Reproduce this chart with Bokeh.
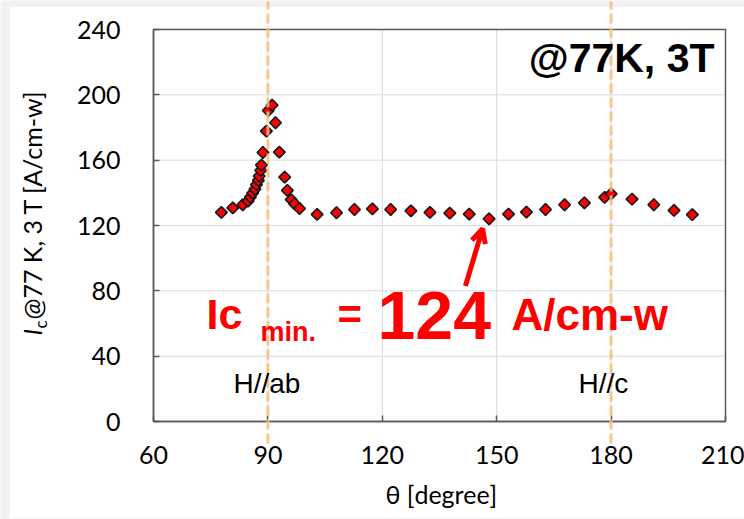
import math
from bokeh.plotting import figure
from bokeh.models import (Range1d, Label, Arrow, OpenHead, FixedTicker, ColumnDataSource,
                          BoxAnnotation)
from bokeh.embed import file_html
from bokeh.resources import INLINE

# Critical current vs field angle, 77 K, 3 T
theta = [77.8, 80.8, 83.4, 84.8, 85.4, 86.0, 86.6, 87.0, 87.5, 87.7, 88.1, 88.3,
         88.7, 89.6, 90.1, 91.1, 92.0, 93.0, 94.4, 95.1, 96.1, 97.0, 98.3, 102.9,
         108.0, 112.7, 117.4, 122.2, 127.5, 132.5, 137.7, 142.8, 148.0, 153.1,
         157.8, 162.8, 167.8, 173.0, 178.3, 180.0, 185.5, 191.2, 196.5, 201.3]
ic = [128.0, 130.8, 132.7, 134.9, 137.4, 139.8, 142.3, 145.0, 147.6, 150.2, 153.7, 157.0,
      164.7, 177.8, 190.4, 193.7, 182.9, 164.9, 149.6, 141.5, 135.8, 133.3, 130.4, 126.8,
      127.8, 129.8, 130.2, 129.8, 129.0, 128.0, 127.6, 127.0, 124.0, 127.0,
      128.2, 129.8, 132.7, 133.9, 137.2, 139.4, 136.1, 132.7, 129.2, 126.6]

x_ticks = [60, 90, 120, 150, 180, 210]
y_ticks = [0, 40, 80, 120, 160, 200, 240]
guide_angles = [90, 180]
guide_names = ["H//ab", "H//c"]

# plot box placement on the canvas (pixels)
W, H = 744, 519
BOX_L, BOX_R, BOX_T, BOX_B = 153, 725, 29, 421
X0, X1 = x_ticks[0], x_ticks[-1]
Y0, Y1 = y_ticks[0], y_ticks[-1]
SX = (X1 - X0) / (BOX_R - BOX_L)
SY = (Y1 - Y0) / (BOX_B - BOX_T)


def dx(px):
    """canvas pixel x -> data x"""
    return X0 + (px - BOX_L) * SX


def dy(py):
    """canvas pixel y (from top) -> data y"""
    return Y0 + (BOX_B - py) * SY


# the frame spans the whole canvas so that titles and guides may sit outside the box
p = figure(width=W, height=H, output_backend="svg", toolbar_location=None,
           x_range=Range1d(dx(0), dx(W)), y_range=Range1d(dy(H), dy(0)),
           min_border=0)
p.background_fill_color = "#f2f2f2"
p.border_fill_color = "white"
p.outline_line_color = None
p.grid.visible = False

# white chart area with a faint edge
p.add_layout(BoxAnnotation(left=dx(9), right=dx(W + 5), top=dy(6), bottom=dy(518),
                           fill_color="white", fill_alpha=1, line_color="#e4e4e4",
                           line_width=1, level="underlay"))

tick_font = "Lato"
sans = "Liberation Sans"
axis_col = "#595959"
for ax in (p.xaxis[0], p.yaxis[0]):
    ax.axis_line_color = axis_col
    ax.axis_line_width = 1.5
    ax.major_tick_line_color = axis_col
    ax.major_tick_line_width = 1.5
    ax.major_tick_in = 6
    ax.major_tick_out = 0
    ax.minor_tick_line_color = None
    ax.major_label_text_font = tick_font
    ax.major_label_text_font_size = "25px"
    ax.major_label_text_color = "black"

p.xaxis.fixed_location = Y0
p.yaxis.fixed_location = X0
p.xaxis.bounds = (X0, X1)
p.yaxis.bounds = (Y0, Y1)
p.xaxis.ticker = FixedTicker(ticks=x_ticks)
p.yaxis.ticker = FixedTicker(ticks=y_ticks)
p.xaxis.major_label_standoff = 24
p.yaxis.major_label_standoff = 33

# grid lines at the tick positions, inside the box
n_x, n_y = len(x_ticks), len(y_ticks)
p.segment(x0=x_ticks, y0=[Y0] * n_x, x1=x_ticks, y1=[Y1] * n_x,
          line_color="#d9d9d9", line_width=1)
p.segment(x0=[X0] * n_y, y0=y_ticks, x1=[X1] * n_y, y1=y_ticks,
          line_color="#d9d9d9", line_width=1)
# plot box
p.quad(left=[X0], right=[X1], bottom=[Y0], top=[Y1], fill_color=None,
       line_color=axis_col, line_width=1.5)

src = ColumnDataSource(dict(theta=theta, ic=ic))
p.scatter("theta", "ic", source=src, marker="square", angle=math.pi / 4, size=8.2,
          fill_color="#ff0000", line_color="#1a1a1a", line_width=1.7)

# orientation guides (H//ab, H//c)
for a in guide_angles:
    p.add_layout(Arrow(end=None, x_start=a, x_end=a, y_start=dy(443), y_end=dy(1),
                       line_color="#f7c07a", line_width=3, line_alpha=0.85,
                       line_dash="10 4"))

p.add_layout(Label(x=dx(233), y=dy(398), text=guide_names[0], text_font=sans,
                   text_font_size="28px", text_color="black"))
p.add_layout(Label(x=dx(578), y=dy(398), text=guide_names[1], text_font=sans,
                   text_font_size="28px", text_color="black"))

p.add_layout(Label(x=dx(714), y=dy(80), text="@77K, 3T", text_align="right",
                   text_font=sans, text_font_style="bold", text_font_size="41px",
                   text_color="black"))

# minimum Ic annotation
i_min = ic.index(min(ic))
t_min, v_min = theta[i_min], ic[i_min]
red = "#ff0000"
parts = [("Ic", 206, 337, "43px"), ("min.", 260, 346, "27px"), ("=", 337, 337, "42px"),
         (f"{v_min:g}", 377, 338, "68px"), ("A/cm-w", 511, 338, "44px")]
for txt, px, py, fs in parts:
    p.add_layout(Label(x=dx(px), y=dy(py), text=txt, text_font=sans,
                       text_font_style="bold", text_font_size=fs, text_color=red))

p.add_layout(Arrow(end=OpenHead(size=14, line_width=5, line_color=red),
                   x_start=t_min - 6.2, y_start=v_min - 41,
                   x_end=t_min - 1.7, y_end=v_min - 6,
                   line_color=red, line_width=5))

# axis titles
p.add_layout(Label(x=dx(440), y=dy(508), text="\u03b8 [degree]", text_align="center",
                   text_font=tick_font, text_font_size="25px", text_color="black"))
rot = math.pi / 2
p.add_layout(Label(x=dx(46), y=dy(335), text="I", angle=rot, text_font=tick_font,
                   text_font_style="italic", text_font_size="25px", text_color="black"))
p.add_layout(Label(x=dx(50), y=dy(328), text="c", angle=rot, text_font=tick_font,
                   text_font_size="17px", text_color="black"))
p.add_layout(Label(x=dx(46), y=dy(319), text="@77 K, 3 T [A/cm-w]", angle=rot,
                   text_font=tick_font, text_font_size="25px", text_color="black"))

open("out.html", "w").write(file_html(p, INLINE))
